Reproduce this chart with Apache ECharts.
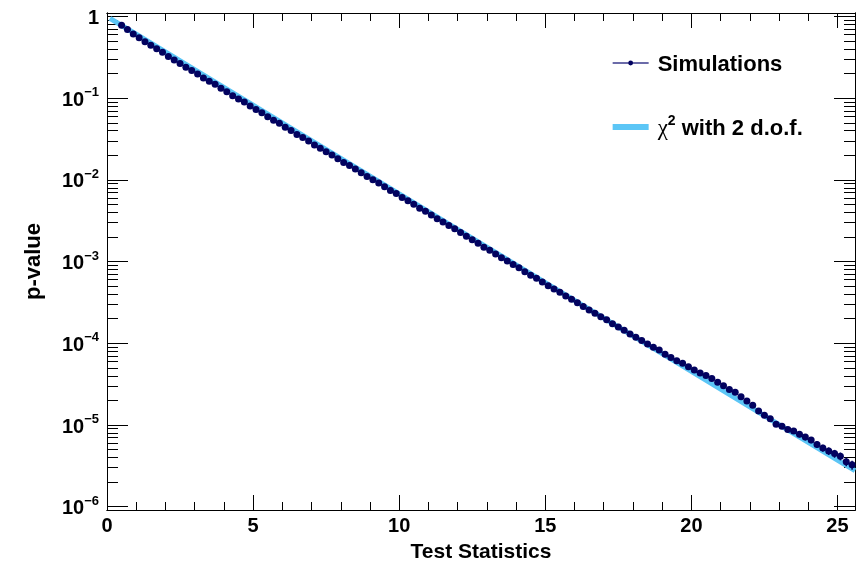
<!DOCTYPE html>
<html>
<head>
<meta charset="utf-8">
<script src="https://cdn.jsdelivr.net/npm/echarts@6/dist/echarts.min.js"></script>
<style>
  html, body { margin: 0; padding: 0; background: #fff; }
  #chart { width: 861px; height: 565px; }
</style>
</head>
<body>
<div id="chart"></div>
<script>
// Test statistic values (bin centres) of the simulated toys
const testStat = [
  0.5, 0.7, 0.9, 1.1, 1.3, 1.5, 1.7, 1.9, 2.1, 2.3,
  2.5, 2.7, 2.9, 3.1, 3.3, 3.5, 3.7, 3.9, 4.1, 4.3,
  4.5, 4.7, 4.9, 5.1, 5.3, 5.5, 5.7, 5.9, 6.1, 6.3,
  6.5, 6.7, 6.9, 7.1, 7.3, 7.5, 7.7, 7.9, 8.1, 8.3,
  8.5, 8.7, 8.9, 9.1, 9.3, 9.5, 9.7, 9.9, 10.1, 10.3,
  10.5, 10.7, 10.9, 11.1, 11.3, 11.5, 11.7, 11.9, 12.1, 12.3,
  12.5, 12.7, 12.9, 13.1, 13.3, 13.5, 13.7, 13.9, 14.1, 14.3,
  14.5, 14.7, 14.9, 15.1, 15.3, 15.5, 15.7, 15.9, 16.1, 16.3,
  16.5, 16.7, 16.9, 17.1, 17.3, 17.5, 17.7, 17.9, 18.1, 18.3,
  18.5, 18.7, 18.9, 19.1, 19.3, 19.5, 19.7, 19.9, 20.1, 20.3,
  20.5, 20.7, 20.9, 21.1, 21.3, 21.5, 21.7, 21.9, 22.1, 22.3,
  22.5, 22.7, 22.9, 23.1, 23.3, 23.5, 23.7, 23.9, 24.1, 24.3,
  24.5, 24.7, 24.9, 25.1, 25.3, 25.5
];

// p-value obtained from the simulations at each test statistic
const simPValue = [
  0.779, 0.691, 0.612, 0.548, 0.491, 0.444, 0.402, 0.364, 0.325, 0.294,
  0.2664, 0.2385, 0.2181, 0.1974, 0.1767, 0.1616, 0.1478, 0.1323, 0.1197, 0.1072,
  0.09802, 0.08965, 0.08025, 0.07262, 0.06641, 0.05945, 0.05380, 0.04920, 0.04404, 0.04028,
  0.03606, 0.03298, 0.02984, 0.02671, 0.02443, 0.02211, 0.02022, 0.01810, 0.01638, 0.01498,
  0.013551, 0.012261, 0.010978, 0.010039, 0.0091791, 0.0082191, 0.0074370, 0.0068001, 0.0060889, 0.0055674,
  0.0050376, 0.0045107, 0.0041245, 0.0037320, 0.0033416, 0.0030555, 0.0027647, 0.0025277, 0.0022636, 0.0020482,
  0.0018532, 0.0016769, 0.0015015, 0.0013729, 0.0012423, 0.0011123, 0.0010171, 0.00092029, 0.00084138, 0.00075347,
  0.00068177, 0.00062331, 0.00056400, 0.00050506, 0.00046176, 0.00042213, 0.00037806, 0.00034561, 0.00031272, 0.00028296,
  0.00025603, 0.00023403, 0.00021176, 0.00019355, 0.00017338, 0.00015846, 0.00014482, 0.00012974, 0.00011856, 0.00010834,
  9.8034e-5, 8.9575e-5, 8.2624e-5, 7.3338e-5, 6.7003e-5, 6.1210e-5, 5.6967e-5, 5.1546e-5, 4.7073e-5, 4.3375e-5,
  4.0308e-5, 3.7112e-5, 3.3291e-5, 3.0123e-5, 2.7256e-5, 2.5091e-5, 2.2121e-5, 1.9665e-5, 1.7476e-5, 1.4807e-5,
  1.3137e-5, 1.1887e-5, 1.0224e-5, 9.636e-6, 8.806e-6, 8.442e-6, 7.710e-6, 7.105e-6, 6.546e-6, 5.764e-6,
  5.216e-6, 4.806e-6, 4.466e-6, 4.148e-6, 3.560e-6, 3.251e-6
];

// Statistical uncertainty of the last simulated points
const errStat = [23.5, 23.7, 23.9, 24.1, 24.3, 24.5, 24.7, 24.9, 25.1, 25.3, 25.5];
const errLow  = [7.77e-6, 7.05e-6, 6.47e-6, 5.96e-6, 5.22e-6, 4.69e-6, 4.30e-6, 3.97e-6, 3.69e-6, 3.13e-6, 2.84e-6];
const errHigh = [9.12e-6, 8.37e-6, 7.74e-6, 7.14e-6, 6.31e-6, 5.74e-6, 5.31e-6, 4.96e-6, 4.60e-6, 3.99e-6, 3.66e-6];

// Asymptotic chi-square (2 degrees of freedom) p-value
const chi2Stat = [0.1, 1, 2, 3, 4, 5, 6, 7, 8, 9, 10, 11, 12, 13, 14, 15, 16, 17, 18, 19, 20, 21, 22, 23, 24, 25, 25.6];
const chi2PValue = [
  0.951229, 0.606531, 0.367879, 0.223130, 0.135335, 0.082085, 0.049787, 0.030197, 0.018316, 0.011109,
  0.0067379, 0.0040868, 0.0024788, 0.0015034, 0.00091188, 0.00055308, 0.00033546, 0.00020347, 0.00012341, 7.4852e-5,
  4.5400e-5, 2.7536e-5, 1.6702e-5, 1.0130e-5, 6.1442e-6, 3.7267e-6, 2.7608e-6
];

// Axis ticks and labels
const xMajor = [0, 5, 10, 15, 20, 25];
const xMinor = [1, 2, 3, 4, 6, 7, 8, 9, 11, 12, 13, 14, 16, 17, 18, 19, 21, 22, 23, 24];
const yMajor = [1e-6, 1e-5, 1e-4, 1e-3, 1e-2, 1e-1, 1];
const yMinor = [];
[1e-6, 1e-5, 1e-4, 1e-3, 1e-2, 1e-1].forEach(d => {
  for (let k = 2; k <= 9; k++) yMinor.push(+(d * k).toPrecision(3));
});

const simName = 'Simulations';
const chi2Name = 'χ2 with 2 d.o.f.';
const FONT = 'Liberation Sans, Arial, Helvetica, sans-serif';
const navy = '#02025f';
const sky = '#5cc6f6';

const X_MIN = 0, X_MAX = 25.6;
const Y_MIN = 9.11e-7, Y_MAX = 1.104;

function xAxisDef(pos, ticks, len, withLabels) {
  return {
    type: 'value', position: pos, min: X_MIN, max: X_MAX,
    axisLine: { show: true, onZero: false, lineStyle: { color: '#000', width: 1 } },
    axisTick: { show: true, inside: true, length: len, customValues: ticks, lineStyle: { color: '#000', width: 1 } },
    axisLabel: withLabels ? {
      show: true, customValues: ticks, margin: 6,
      fontFamily: FONT, fontWeight: 'bold', fontSize: 20, color: '#000'
    } : { show: false },
    splitLine: { show: false }
  };
}

function yAxisDef(pos, ticks, len, withLabels) {
  return {
    type: 'log', logBase: 10, position: pos, min: Y_MIN, max: Y_MAX,
    axisLine: { show: true, onZero: false, lineStyle: { color: '#000', width: 1 } },
    axisTick: { show: true, inside: true, length: len, customValues: ticks, lineStyle: { color: '#000', width: 1 } },
    axisLabel: withLabels ? {
      show: true, customValues: ticks, margin: 8,
      formatter: v => {
        const e = Math.round(Math.log10(v));
        if (e === 0) return '{b|1}';
        return '{b|10}{e|\u2212' + (-e) + '}';
      },
      rich: {
        b: { fontFamily: FONT, fontWeight: 'bold', fontSize: 20, color: '#000', lineHeight: 24, verticalAlign: 'bottom' },
        e: { fontFamily: FONT, fontWeight: 'bold', fontSize: 13, color: '#000', lineHeight: 24, verticalAlign: 'top' }
      }
    } : { show: false },
    splitLine: { show: false }
  };
}

const xAxes = [
  xAxisDef('bottom', xMajor, 15, true),
  xAxisDef('bottom', xMinor, 8, false),
  xAxisDef('top', xMajor, 15, false),
  xAxisDef('top', xMinor, 8, false)
];
Object.assign(xAxes[0], {
  name: 'Test Statistics', nameLocation: 'middle', nameGap: 32,
  nameTextStyle: { fontFamily: FONT, fontWeight: 'bold', fontSize: 21, color: '#000' }
});

const yAxes = [
  yAxisDef('left', yMajor, 21, true),
  yAxisDef('left', yMinor, 11, false),
  yAxisDef('right', yMajor, 21, false),
  yAxisDef('right', yMinor, 11, false)
];
Object.assign(yAxes[0], {
  name: 'p-value', nameLocation: 'middle', nameGap: 62,
  nameTextStyle: { fontFamily: FONT, fontWeight: 'bold', fontSize: 22, color: '#000' }
});

const chart = echarts.init(document.getElementById('chart'), null, { renderer: 'canvas' });
chart.setOption({
  animation: false,
  backgroundColor: '#fff',
  grid: { left: 107, right: 6, top: 13, bottom: 55, containLabel: false, outerBoundsMode: 'none' },
  xAxis: xAxes,
  yAxis: yAxes,
  legend: {
    orient: 'vertical', left: 612, top: 54, padding: 0,
    itemWidth: 36, itemHeight: 6, itemGap: 38,
    data: [
      { name: simName, lineStyle: { opacity: 1, width: 1.3, color: '#3a3a8c' }, itemStyle: { color: navy } },
      { name: chi2Name, icon: 'rect', itemStyle: { color: sky } }
    ],
    formatter: name => name === chi2Name
      ? '{chi|\u03c7}{sup|2}{t| with 2 d.o.f.}'
      : '{t|' + name + '}',
    textStyle: {
      padding: [0, 0, 0, 4],
      rich: {
        t: { fontFamily: FONT, fontWeight: 'bold', fontSize: 22, color: '#000', lineHeight: 26, verticalAlign: 'bottom' },
        chi: { fontFamily: 'Liberation Serif, DejaVu Serif, serif', fontWeight: 'normal', fontSize: 23, color: '#000', lineHeight: 26, verticalAlign: 'bottom' },
        sup: { fontFamily: FONT, fontWeight: 'bold', fontSize: 14, color: '#000', lineHeight: 26, verticalAlign: 'top' }
      }
    }
  },
  series: [
    {
      name: chi2Name, type: 'line', xAxisIndex: 0, yAxisIndex: 0,
      data: chi2Stat.map((x, i) => [x, chi2PValue[i]]),
      showSymbol: false, symbol: 'none',
      lineStyle: { color: sky, width: 5 },
      itemStyle: { color: sky },
      z: 2
    },
    {
      name: simName, type: 'line', xAxisIndex: 0, yAxisIndex: 0,
      data: testStat.map((x, i) => [x, simPValue[i]]),
      symbol: 'circle', symbolSize: 7, showSymbol: true,
      lineStyle: { opacity: 0, width: 0 },
      itemStyle: { color: navy },
      z: 4
    },
    {
      name: 'errors', type: 'custom', xAxisIndex: 0, yAxisIndex: 0,
      data: errStat.map((x, i) => [x, errLow[i], errHigh[i]]),
      encode: { x: 0, y: [1, 2] },
      renderItem: (params, api) => {
        const x = api.value(0);
        const lo = api.coord([x, api.value(1)]);
        const hi = api.coord([x, api.value(2)]);
        return {
          type: 'line',
          shape: { x1: lo[0], y1: lo[1], x2: hi[0], y2: hi[1] },
          style: { stroke: navy, lineWidth: 1.5 }
        };
      },
      z: 3
    }
  ]
});
</script>
</body>
</html>
